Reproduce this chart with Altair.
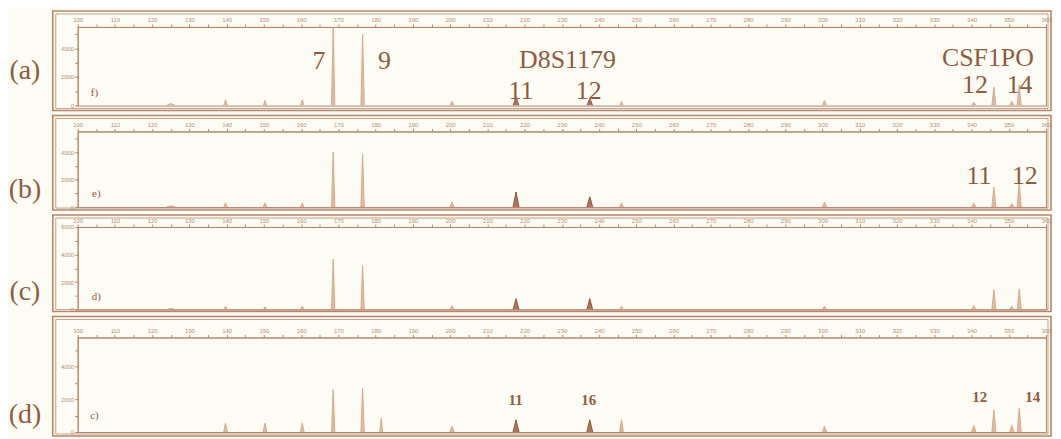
import altair as alt
import pandas as pd

# ---- data ----
panel_tags = ["(a)", "(b)", "(c)", "(d)"]
inner_tags = ["f)", "e)", "d)", "c)"]
y_max = [5500, 5500, 6000, 5800]

peak_pos = [125.0, 139.7, 150.3, 160.3, 168.6, 176.5, 181.5, 200.5, 217.7, 237.5,
            246.0, 300.5, 340.6, 346.0, 350.8, 352.8]
peak_halfwidth = [1.2, 0.5, 0.5, 0.5, 0.45, 0.45, 0.4, 0.6, 0.8, 0.8,
                  0.5, 0.6, 0.6, 0.55, 0.6, 0.55]
peak_kind = ["light"] * 8 + ["dark", "dark"] + ["light"] * 6
heights_a = [150, 400, 350, 400, 5500, 5000, 0, 300, 600, 500, 300, 350, 250, 1300, 300, 1450]
heights_b = [100, 300, 300, 300, 4000, 3850, 0, 350, 1100, 750, 300, 350, 300, 1450, 250, 1800]
heights_c = [100, 250, 200, 250, 3650, 3200, 0, 300, 800, 800, 250, 250, 300, 1450, 250, 1500]
heights_d = [0, 550, 550, 550, 2600, 2700, 850, 350, 750, 750, 750, 350, 400, 1350, 400, 1450]
heights = [heights_a, heights_b, heights_c, heights_d]

big_text_a = ["7", "9", "D8S1179", "11", "12", "CSF1PO", "12", "14"]
big_x_a = [164.8, 182.4, 231.5, 219.0, 237.2, 344.4, 340.9, 352.9]
big_y_a = [3120, 3120, 3190, 1020, 1020, 3350, 1450, 1450]
big_text_b = ["11", "12"]
big_x_b = [342.0, 354.3]
big_y_b = [2250, 2250]
small_text_d = ["11", "16", "12", "14"]
small_x_d = [217.6, 237.2, 342.2, 356.4]
small_y_d = [1970, 1970, 2150, 2150]
inner_x = [104.5, 105.0, 105.0, 104.5]
inner_y = [880, 945, 930, 980]

# ---- layout / style ----
W = 973
panel_h = [79, 76, 83, 95]
frame_top = [-16, -16, -12, -21]
frame_bot = [5, 3, 2, 4]
tag_y = [44, 59, 65, 78]
BROWN = "#8e5b41"
FRAME = "#b5856a"
LIGHT = "#d2a688"
DARK = "#8c4c33"
SERIF = "Liberation Serif"

x_ticks = list(range(100, 361, 5))


def panel(i):
    rows = []
    for j, (p, w, k, h) in enumerate(zip(peak_pos, peak_halfwidth, peak_kind, heights[i])):
        if h <= 0:
            continue
        rows += [dict(x=p - w, y=0, id=j, kind=k), dict(x=p, y=h, id=j, kind=k),
                 dict(x=p + w, y=0, id=j, kind=k)]
    df = pd.DataFrame(rows)
    ymax = y_max[i]
    y_ticks = list(range(0, ymax + 1, 1000))
    xs = alt.Scale(domain=[100, 360], nice=False, zero=False)
    ys = alt.Scale(domain=[0, ymax], nice=False, zero=True)
    xaxis = alt.Axis(orient="top", values=x_ticks, title=None,
                     labelExpr="datum.value % 10 == 0 ? datum.label : ''",
                     labelOverlap=False, labelFlush=False,
                     labelFontSize=6, labelColor="#b58f75", tickColor=FRAME,
                     domainColor=FRAME, tickSize=3, labelPadding=1, grid=False)
    yaxis = alt.Axis(values=y_ticks, title=None, format="d",
                     labelExpr="datum.value % 2000 == 0 ? datum.label : ''",
                     labelOverlap=False, labelFlush=False,
                     labelFontSize=6, labelColor="#b58f75", tickColor=FRAME,
                     domainColor=FRAME, tickSize=3, labelPadding=1, grid=False)

    def X():
        return alt.X("x:Q", scale=xs, axis=xaxis)

    def Y():
        return alt.Y("y:Q", scale=ys, axis=yaxis)

    color = alt.Color("kind:N", scale=alt.Scale(domain=["light", "dark"], range=[LIGHT, DARK]),
                      legend=None)

    one = pd.DataFrame({"t": [panel_tags[i]]})
    frame_outer = alt.Chart(one).mark_rect(fill="transparent", stroke=FRAME, strokeWidth=1.6).encode(
        x=alt.value(-25), x2=alt.value(W + 5),
        y=alt.value(frame_top[i]), y2=alt.value(panel_h[i] + frame_bot[i]))
    frame_inner = alt.Chart(one).mark_rect(fill="transparent", stroke=FRAME, strokeWidth=0.8).encode(
        x=alt.value(-22), x2=alt.value(W + 2),
        y=alt.value(frame_top[i] + 3), y2=alt.value(panel_h[i] + frame_bot[i] - 2))

    area = alt.Chart(df).mark_area(clip=True, opacity=0.75).encode(
        x=X(), y=Y(), detail="id:N", color=color)
    line = alt.Chart(df).mark_line(clip=True, strokeWidth=0.9).encode(
        x=X(), y=Y(), detail="id:N", color=color)

    tag = alt.Chart(one).mark_text(font=SERIF, fontSize=28, color=BROWN, align="center",
                                   baseline="middle").encode(
        x=alt.value(-53), y=alt.value(tag_y[i]), text="t:N")
    inner = alt.Chart(pd.DataFrame({"t": [inner_tags[i]], "x": [inner_x[i]], "y": [inner_y[i]]})
                      ).mark_text(font=SERIF, fontSize=11, color=BROWN, align="center",
                                  baseline="middle").encode(
        x=X(), y=Y(), text="t:N")

    layers = [frame_outer, frame_inner, area, line, tag, inner]
    if i == 0:
        d = pd.DataFrame({"t": big_text_a, "x": big_x_a, "y": big_y_a})
        layers.append(alt.Chart(d).mark_text(font=SERIF, fontSize=26, color=BROWN,
                                             baseline="middle").encode(
            x=X(), y=Y(), text="t:N"))
    if i == 1:
        d = pd.DataFrame({"t": big_text_b, "x": big_x_b, "y": big_y_b})
        layers.append(alt.Chart(d).mark_text(font=SERIF, fontSize=26, color=BROWN,
                                             baseline="middle").encode(
            x=X(), y=Y(), text="t:N"))
    if i == 3:
        d = pd.DataFrame({"t": small_text_d, "x": small_x_d, "y": small_y_d})
        layers.append(alt.Chart(d).mark_text(font=SERIF, fontSize=15, fontWeight="bold",
                                             color=BROWN, baseline="middle").encode(
            x=X(), y=Y(), text="t:N"))
    return alt.layer(*layers).properties(width=W, height=panel_h[i])


chart = alt.vconcat(*[panel(i) for i in range(4)], spacing=1).properties(
    padding=0, background="#fdfcf4"
).configure_view(stroke=FRAME, strokeWidth=1).configure_axis(labelOverlap=False)

chart.save("out.html", embed_options={"renderer": "svg", "actions": False})
